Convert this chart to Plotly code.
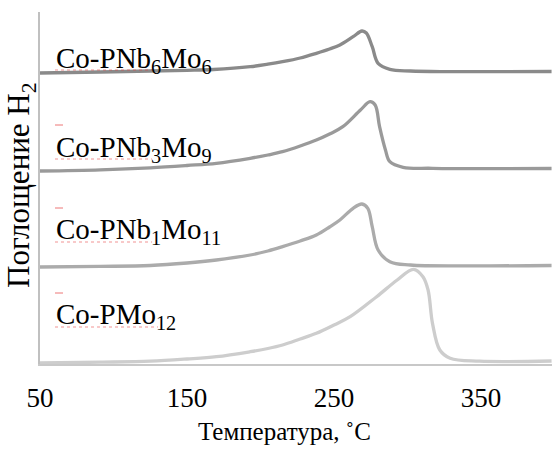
import plotly.graph_objects as go

# Temperature (°C) sample points and H2 uptake signal (a.u.) for each catalyst
t_nb6mo6 = [50, 91, 125, 150, 168, 193, 205, 215, 227, 238, 247, 254, 263, 269, 272, 276, 280, 288, 302, 329, 398]
s_nb6mo6 = [0, 1, 2, 2.7, 3.5, 6.3, 8.8, 11.3, 15, 19.7, 24, 28, 36.3, 42, 40, 26.3, 9.7, 3.7, 2, 1.4, 1.5]

t_nb3mo9 = [50, 91, 125, 150, 170, 193, 205, 215, 227, 238, 247, 256, 268, 274.5, 278, 281, 285, 288, 297, 317, 398]
s_nb3mo9 = [0, 1.2, 3.2, 5.5, 7.7, 12.7, 16, 19.3, 25, 31, 37, 44.3, 61, 69.3, 66, 44.3, 21, 9.3, 3.7, 2.7, 2.5]

t_nb1mo11 = [50, 91, 125, 150, 170, 193, 205, 215, 227, 238, 247, 254, 263, 269, 273, 276, 280, 288, 302, 349, 398]
s_nb1mo11 = [0, 0.6, 1.5, 4, 7, 12, 16, 20.3, 26, 32, 40, 47, 58.7, 63, 58.7, 40.3, 17, 5.3, 2, 1.2, 1.5]

t_pmo12 = [50, 91, 125, 150, 170, 193, 205, 215, 227, 238, 250, 261, 279, 293, 304, 310.5, 314, 317, 322, 329, 349, 398]
s_pmo12 = [0, 0.8, 1.8, 4, 6.3, 11.3, 14.5, 18, 24, 29.7, 38, 46.3, 66.3, 83, 93.7, 86.3, 73, 39.7, 13, 4.7, 1.8, 2]

names = ["Co-PNb<sub>6</sub>Mo<sub>6</sub>", "Co-PNb<sub>3</sub>Mo<sub>9</sub>",
         "Co-PNb<sub>1</sub>Mo<sub>11</sub>", "Co-PMo<sub>12</sub>"]
offsets = [291, 193, 97, 1]
x_ticks = [50, 150, 250, 350]

temps = [t_nb6mo6, t_nb3mo9, t_nb1mo11, t_pmo12]
sigs = [s_nb6mo6, s_nb3mo9, s_nb1mo11, s_pmo12]
colors = ["#8a8a8a", "#9a9a9a", "#ababab", "#cdcdcd"]

W, H = 552, 454
L, R, T, B = 40, 0, 12, 90
ph = H - T - B

fig = go.Figure()
for t, s, off, c in zip(temps, sigs, offsets, colors):
    fig.add_trace(go.Scatter(x=t, y=[v + off for v in s], mode="lines",
                             line=dict(color=c, width=3.3, shape="spline", smoothing=1.0),
                             showlegend=False, hoverinfo="skip"))

font = "Liberation Serif, Times New Roman, serif"

def py(p):
    return (H - B - p) / ph

# series labels (pixel positions converted to paper)
label_y = [59.6, 148.5, 231, 316]
for nm, ly in zip(names, label_y):
    fig.add_annotation(x=(54 - L) / (W - L - R), y=py(ly), xref="paper", yref="paper",
                       text=nm, showarrow=False, xanchor="left", yanchor="middle",
                       font=dict(family=font, size=29, color="black"))

# spell-check style squiggles
for x1, yy in [(152, 70), (152, 159), (152, 242), (158, 327)]:
    fig.add_shape(type="line", xref="paper", yref="paper",
                  x0=(55 - L) / (W - L), x1=(x1 - L) / (W - L), y0=py(yy), y1=py(yy),
                  line=dict(color="rgba(230,60,60,0.55)", width=1, dash="dot"))
for yy in [125, 208, 293]:
    fig.add_shape(type="line", xref="paper", yref="paper",
                  x0=(55 - L) / (W - L), x1=(63 - L) / (W - L), y0=py(yy), y1=py(yy),
                  line=dict(color="rgba(230,60,60,0.7)", width=1))

fig.add_annotation(x=(284.5 - L) / (W - L), y=py(431), xref="paper", yref="paper",
                   text="Температура, ˚C", showarrow=False, xanchor="center", yanchor="middle",
                   font=dict(family=font, size=25, color="black"))
fig.add_annotation(x=-(L - 21) / (W - L), y=py(185), xref="paper", yref="paper",
                   text="Поглощение H<sub>2</sub>", showarrow=False, textangle=-90,
                   xanchor="center", yanchor="middle",
                   font=dict(family=font, size=31, color="black"))

fig.update_layout(
    width=W, height=H, margin=dict(l=L, r=R, t=T, b=B),
    paper_bgcolor="white", plot_bgcolor="white",
    xaxis=dict(range=[50, 398.3], tickvals=x_ticks, showgrid=False, zeroline=False,
               showline=True, linecolor="#c8c8c8", linewidth=2, ticks="",
               ticklabelstandoff=9,
               tickfont=dict(family=font, size=27, color="black")),
    yaxis=dict(range=[0, 352], showgrid=False, zeroline=False, showticklabels=False,
               showline=True, linecolor="#c0c0c0", linewidth=2, ticks=""),
)

fig.write_html("out.html")
